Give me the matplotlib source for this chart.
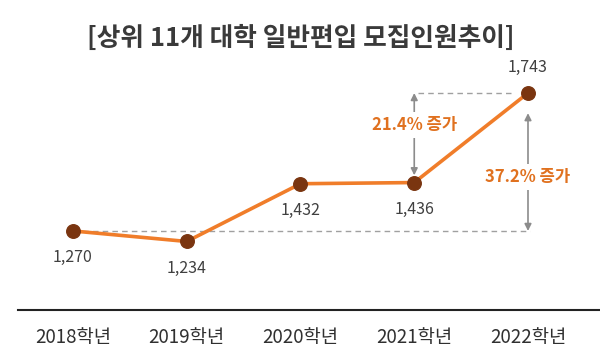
import matplotlib.pyplot as plt

plt.rcParams['font.family'] = ['Noto Sans CJK KR', 'DejaVu Sans']

years = ['2018학년', '2019학년', '2020학년', '2021학년', '2022학년']
counts = [1270, 1234, 1432, 1436, 1743]
title = '[상위 11개 대학 일반편입 모집인원추이]'
note_small = '21.4% 증가'
note_big = '37.2% 증가'

line_c = '#F07D2A'
dot_c = '#7A3510'
text_c = '#404040'
note_c = '#E0711F'
gray = '#8C8C8C'

fig = plt.figure(figsize=(6, 3.62), dpi=100)
ax = fig.add_axes([18 / 600, 52 / 362, 582 / 600, 310 / 362])
xs = list(range(len(years)))

ax.set_xlim(-0.4835, 4.633)
ax.set_ylim(999, 2062)

# dashed guide lines
ax.plot([0, 4.02], [counts[0], counts[0]], ls=(0, (4, 3)), color='#A0A0A0', lw=1, zorder=1)
ax.plot([3.03, 3.85], [counts[4], counts[4]], ls=(0, (4, 3)), color='#A0A0A0', lw=1, zorder=1)

ax.plot(xs, counts, color=line_c, lw=2.6, zorder=2)
ax.scatter(xs, counts, s=95, color=dot_c, zorder=3)

# value labels
for i, v in enumerate(counts):
    if i == 4:
        ax.annotate(f'{v:,}', (i, v), xytext=(0, 12), textcoords='offset points',
                    ha='center', va='bottom', fontsize=11.5, color=text_c)
    else:
        ax.annotate(f'{v:,}', (i, v), xytext=(0, -13), textcoords='offset points',
                    ha='center', va='top', fontsize=11.5, color=text_c)

# increase arrows
ax.annotate('', xy=(3, counts[4]), xytext=(3, counts[3] + 25),
            arrowprops=dict(arrowstyle='<|-|>', color=gray, lw=1.2, mutation_scale=10, shrinkA=0, shrinkB=0))
ax.annotate('', xy=(4, 1674), xytext=(4, counts[0]),
            arrowprops=dict(arrowstyle='<|-|>', color=gray, lw=1.2, mutation_scale=10, shrinkA=0, shrinkB=0))
ax.text(3, 1633, note_small, ha='center', va='center', fontsize=12, fontweight='bold', color=note_c,
        bbox=dict(facecolor='white', edgecolor='none', pad=3), zorder=4)
ax.text(4, 1455, note_big, ha='center', va='center', fontsize=12, fontweight='bold', color=note_c,
        bbox=dict(facecolor='white', edgecolor='none', pad=3), zorder=4)

for s in ['top', 'right', 'left']:
    ax.spines[s].set_visible(False)
ax.spines['bottom'].set_color('#222222')
ax.spines['bottom'].set_linewidth(1.5)
ax.set_yticks([])
ax.set_xticks(xs)
ax.set_xticklabels(years, fontsize=13.5, color='#303030')
ax.tick_params(axis='x', length=0, pad=12)

fig.text(0.502, 1 - 38 / 362, title, ha='center', va='center', fontsize=18.5,
         fontweight='bold', color='#3A3A3A')

fig.savefig('out.png', dpi=100)
